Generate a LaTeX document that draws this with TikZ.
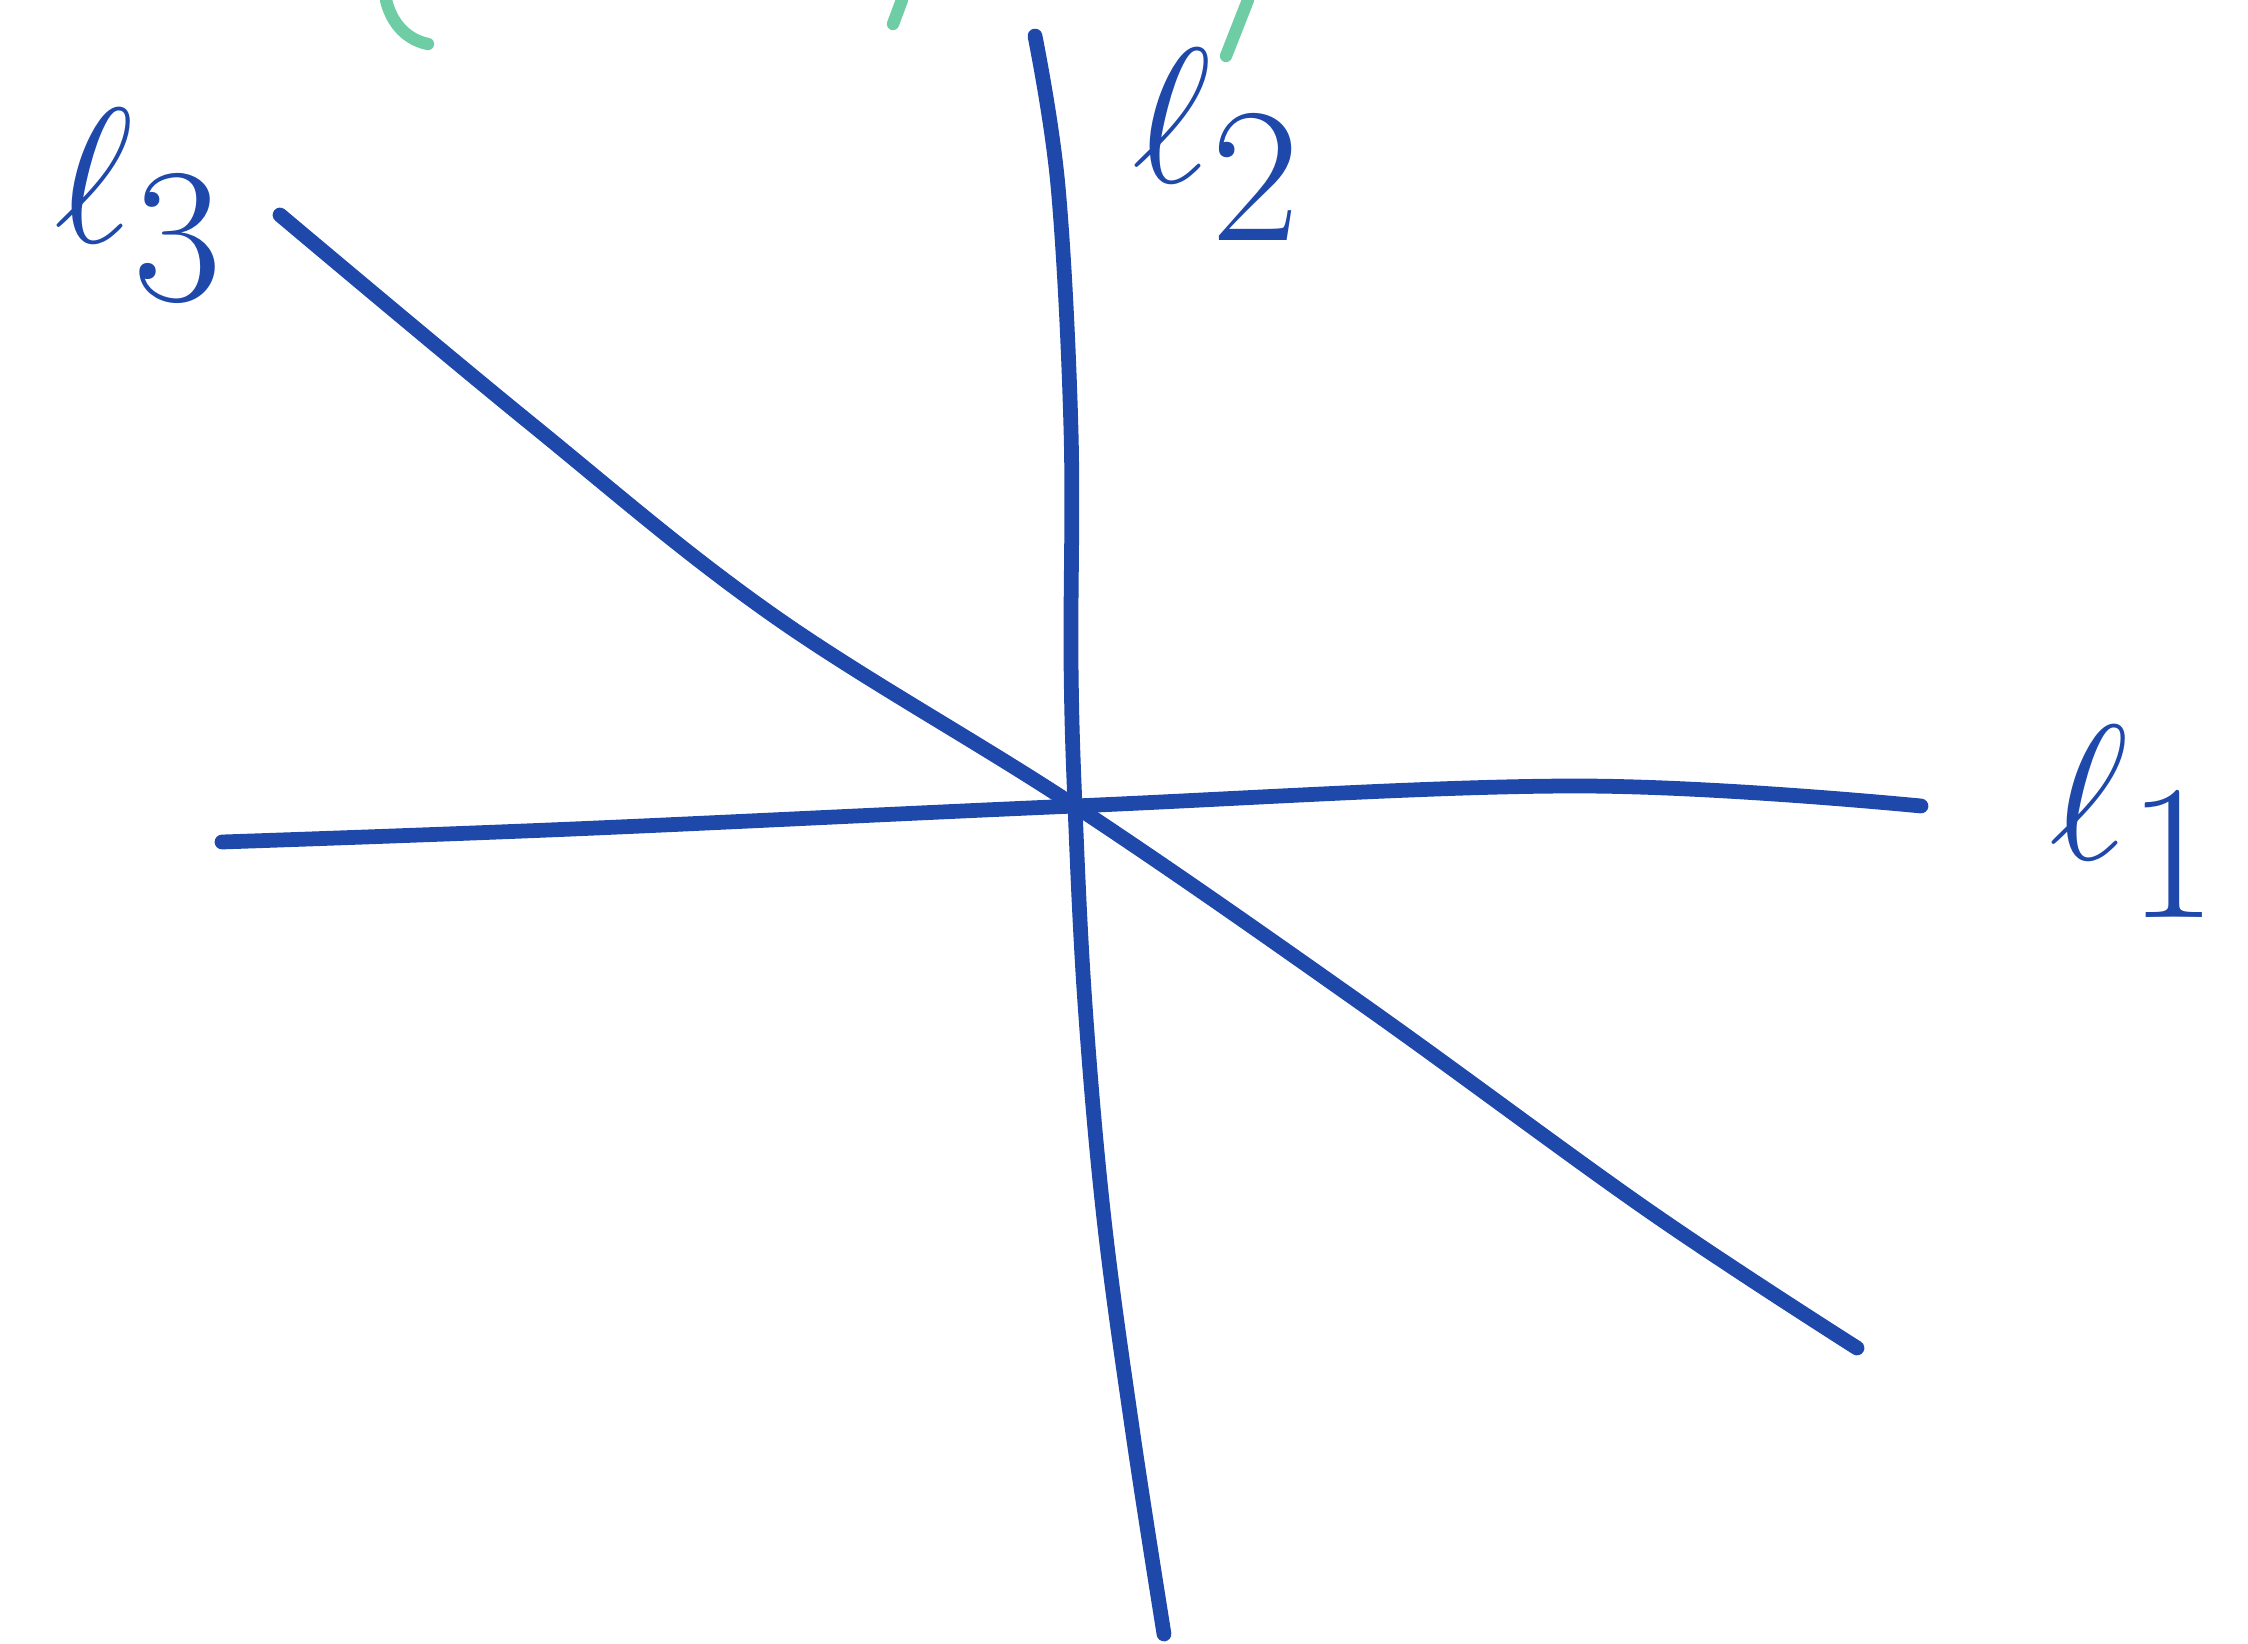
\documentclass[tikz,border=0pt]{standalone}
\usetikzlibrary{calc}
\definecolor{pen}{RGB}{30,72,170}
\definecolor{greenpen}{RGB}{110,205,165}
\begin{document}
\begin{tikzpicture}[x=0.1mm,y=-0.1mm,
  penline/.style={draw=pen,line width=4.2pt,line cap=round,line join=round},
  greenline/.style={draw=greenpen,line width=3.5pt,line cap=round},
  lbl/.style={text=pen,font=\Huge,inner sep=0pt,scale=2.2,transform shape}]
\useasboundingbox[fill=white] (0,0) rectangle (2248,1644);
% green fragments of cut-off text at the top
\draw[greenline] (386,0) .. controls (392,25) and (408,40) .. (428,44);
\draw[greenline] (902,0) -- (893,24);
\draw[greenline] (1248,0) -- (1226,56);
% centre of the three lines
\coordinate (O) at (1075,806);
% l1
\coordinate (l1a) at (222,842);
\coordinate (l1b) at (1921,806);
\draw[penline] plot[smooth,tension=0.6] coordinates
  {(222,842) (573,829) (1075,806) (1577,786) (1921,806)};
% l2
\coordinate (l2a) at (1035,36);
\coordinate (l2b) at (1164,1634);
\draw[penline] plot[smooth,tension=0.6] coordinates
  {(1035,36) (1058,186) (1071,430) (1071,660) (1075,806) (1085,1004)
   (1104,1219) (1133,1434) (1164,1634)};
% l3
\coordinate (l3a) at (280,215);
\coordinate (l3b) at (1857,1348);
\draw[penline] plot[smooth,tension=0.6] coordinates
  {(280,215) (530,423) (774,616) (1075,806) (1362,1004) (1649,1211) (1857,1348)};
% labels
\node[lbl] (L1) at (2135,822) {$\ell_{\textstyle 1}$};
\node[lbl] (L2) at (1218,145) {$\ell_{\textstyle 2}$};
\node[lbl] (L3) at (140,205) {$\ell_{\textstyle 3}$};
\end{tikzpicture}
\end{document}
